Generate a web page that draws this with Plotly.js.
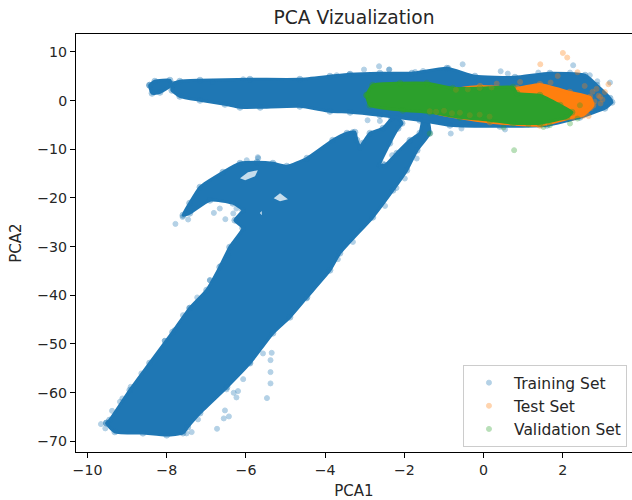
<!DOCTYPE html>
<html><head><meta charset="utf-8">
<script src="https://cdn.plot.ly/plotly-3.0.1.min.js"></script>
<style>html,body{margin:0;padding:0;background:#fff;overflow:hidden}</style>
</head><body><div id="chart" style="width:632px;height:500px"></div>
<script>
const trainLowerX=[-9.52,-9.31,-8.60,-8.0,-7.59,-7.47,-7.16,-6.48,-5.90,-5.32,-4.89,-4.46,-3.88,-3.63,-2.80,-2.29,-1.94,-1.68,-1.36,-1.41,-1.53,-1.61,-1.86,-2.19,-2.49,-2.62,-2.37,-2.16,-2.06,-2.24,-2.32,-2.54,-2.87,-3.05,-3.12,-3.20,-3.25,-3.45,-3.81,-4.46,-4.97,-5.32,-5.72,-6.15,-6.58,-7.16,-7.42,-7.59,-7.42,-6.91,-6.33,-6.08,-6.28,-6.08,-6.41,-6.66,-6.99,-7.42,-7.85,-8.43,-8.93,-9.44];
const trainLowerY=[-66.26,-68.05,-68.32,-68.73,-68.3,-67.08,-64.2,-58.87,-53.94,-47.78,-44.5,-40.39,-34.85,-31.36,-23.96,-18.42,-14.31,-10.2,-6.71,-4.05,-4.05,-6.71,-8.15,-10.82,-13.29,-13.29,-8.77,-5.69,-4.66,-3.02,-3.63,-5.69,-6.71,-8.77,-9.59,-8.15,-6.51,-6.71,-8.15,-11.85,-13.49,-12.88,-12.67,-12.88,-14.72,-17.8,-21.09,-23.55,-23.14,-20.47,-21.09,-22.53,-24.58,-26.22,-30.12,-34.23,-38.95,-42.65,-47.58,-53.94,-59.49,-65.65];
const trainUpperX=[-7.84,-7.67,-7.16,-5.90,-4.64,-3.88,-3.37,-2.62,-1.81,-0.93,-0.22,0.79,1.67,2.56,2.86,3.19,3.24,3.06,2.43,1.60,0.41,-0.85,-1.61,-2.62,-3.37,-3.88,-4.64,-5.64,-6.15,-6.53,-7.16,-7.67,-7.87];
const trainUpperY=[3.35,3.96,4.17,4.37,4.37,4.99,5.40,5.61,5.61,6.63,5.0,4.78,5.61,5.2,3.14,0.47,-0.35,-1.58,-3.43,-5.07,-5.28,-5.07,-4.05,-3.02,-2.40,-2.2,-1.17,-1.38,-1.38,-0.76,0.06,0.88,2.11];
const trainTipX=[-8.43,-8.30,-7.92,-7.89,-8.17,-8.37];
const trainTipY=[3.14,3.96,4.17,3.14,1.70,1.50];
const trainGapX=[-6.15,-5.95,-5.70,-5.77,-6.02,null,-5.30,-5.14,-4.94,-5.14,null,-5.65,-5.6,-5.6];
const trainGapY=[-15.95,-14.72,-14.31,-15.54,-16.36,null,-20.06,-19.03,-20.27,-20.68,null,-23.08,-22.67,-23.55];
const trainPointsX=[-0.53,-0.89,-2.39,-1.73,-1.53,0.43,0.61,1.38,2.26,2.18,2.68,2.87,3.19,-0.83,-0.56,0.54,-2.64,-3.02,-2.38,-3.71,-3.39,-6.84,-6.07,-2.93,-2.62,-3.3,-5.70,-5.98,-7.78,-6.52,-5.69,-7.6,-7.46,-6.81,-6.66,-6.24,-6.32,-6.64,-6.91,-6.91,-7.23,-6.45,-7.42,-2.2,-2.49,-1.99,-2.54,-2.31,-1.69,-3.3,-3.68,-4.47,-9.66,-9.55,-8.91,-9.38,-9.18,-9.12,-8.64,-8.05,-8.05,-7.80,-7.59,-5.35,-5.38,-5.38,-5.38,-5.47,-6.07,-6.2,-6.31,-6.24,-6.53,-6.43,-6.56,-6.73,-7.37,-7.5,-7.21,-5.57,-6.49,-5.9];
const trainPointsY=[7.45,6.7,6.37,5.87,6.08,6.02,5.54,5.75,7.25,5.75,5.2,3.96,3.7,-6.78,-5.75,-5.95,7.04,6.37,6.37,5.2,5.4,3.82,4.37,-4.05,-4.19,-6.45,-11.64,-12.26,-25.34,-24.37,-11.85,-23.9,-24.44,-23.08,-22.18,-22.18,-23.2,-33.96,-36.9,-36.9,-40.45,-31.77,-42.59,-17.95,-21.64,-16.02,-12.94,-11.23,-11.91,-29.04,-32.6,-40.66,-66.47,-67.35,-58.81,-63.74,-61.89,-61.2,-56.06,-49.36,-49.36,-47.17,-44.09,-51.83,-53.33,-55.79,-58.11,-61.13,-57.23,-59.69,-60.04,-60.99,-63.66,-64.89,-65.3,-67.43,-68.11,-68.38,-65.5,-51.95,-59.34,-53.88];
const testCoreX=[-1.36,-0.78,-0.09,0.84,1.42,2.17,2.68,2.76,2.51,2.25,1.42,0.16];
const testCoreY=[-2.0,2.1,2.9,2.53,3.3,1.7,0.68,-0.97,-3.03,-3.43,-5.07,-4.4];
const testPointsX=[2.0,2.11,1.43,2.37,3.15,3.06,2.94,1.69,0.92,0.33,1.87,2.43,2.7,2.85,2.9,2.8,2.95,2.6,2.75,3.0,2.55,2.65];
const testPointsY=[9.78,8.83,7.45,5.81,3.35,1.77,0.74,3.7,3.82,3.49,5.05,-2.6,-1.6,2.4,1.0,-0.2,-0.6,-2.2,1.8,0.2,3.0,-3.2];
const wispX=[-1.36,-1.2,-1.0,-0.8,-0.6,-0.35,-0.1,0.15,-0.7,-0.4,-0.1,0.2];
const wispY=[-2.2,-2.3,-2.1,-2.6,-2.5,-3.0,-2.9,-3.3,2.2,2.3,2.6,2.7];
const validCoreX=[-2.95,-2.80,-2.11,-1.43,-0.78,-0.09,0.74,0.84,1.42,1.93,2.23,2.10,1.42,0.74,0.16,-0.60,-1.36,-2.04,-2.87];
const validCoreY=[1.09,3.14,3.55,3.55,2.53,2.53,2.73,1.50,1.09,-0.97,-2.40,-3.43,-4.66,-4.66,-4.05,-3.43,-2.40,-1.99,-0.97];
const validPointsX=[0.77,-1.36,2.18,2.37,0.50,1.67,1.51,1.13,2.43];
const validPointsY=[-10.2,-6.78,-4.72,-3.7,-5.54,-5.07,-5.42,-4.93,-0.97];
const seriesNames=['Training Set','Test Set','Validation Set'];
const xTicks=[-10,-8,-6,-4,-2,0,2];
const yTicks=[-70,-60,-50,-40,-30,-20,-10,0,10];

const BLUE='#1f77b4',ORANGE='#ff7f0e',GREEN='#2ca02c';
function cloud(x,y,c){return {x:x.concat(x[0]),y:y.concat(y[0]),type:'scatter',mode:'lines+markers',fill:'toself',fillcolor:c,
  line:{color:c,width:3,shape:'spline',smoothing:0.5},marker:{color:c,size:6,opacity:0.4,line:{color:c,width:1}},showlegend:false,hoverinfo:'skip'};}
function pts(x,y,c,name,show,op){return {x:x,y:y,type:'scatter',mode:'markers',name:name,showlegend:show,
  marker:{color:c,size:5,opacity:op||0.33,line:{color:c,width:1}}};}
const traces=[
  cloud(trainLowerX,trainLowerY,BLUE),
  cloud(trainUpperX,trainUpperY,BLUE),
  cloud(trainTipX,trainTipY,BLUE),
  {x:trainGapX,y:trainGapY,type:'scatter',mode:'none',fill:'toself',fillcolor:'rgba(255,255,255,0.75)',showlegend:false,hoverinfo:'skip'},
  pts(trainPointsX,trainPointsY,BLUE,seriesNames[0],true),
  cloud(testCoreX,testCoreY,ORANGE),
  pts(testPointsX,testPointsY,ORANGE,seriesNames[1],true),
  cloud(validCoreX,validCoreY,GREEN),
  pts(wispX,wispY,ORANGE,seriesNames[1],false,0.18),
  pts(validPointsX,validPointsY,GREEN,seriesNames[2],true)
];
const TXT='#262626';
const layout={
  width:632,height:500,autosize:false,paper_bgcolor:'#fff',plot_bgcolor:'#fff',
  margin:{l:76,r:0,t:34,b:48},
  font:{family:'"DejaVu Sans",sans-serif',size:14,color:TXT},
  title:{text:'PCA Vizualization',font:{size:18.7,color:TXT},xref:'paper',x:0.5,xanchor:'center',yref:'container',y:0.965,yanchor:'middle'},
  xaxis:{range:[-10.29,3.745],tickvals:xTicks,ticks:'outside',ticklen:5,tickcolor:'#000',tickfont:{size:14.2},showline:true,linecolor:'#000',linewidth:1,mirror:true,showgrid:false,zeroline:false,
    title:{text:'PCA1',standoff:9,font:{size:15}}},
  yaxis:{range:[-72.2,13.67],tickvals:yTicks,ticks:'outside',ticklen:5,tickcolor:'#000',tickfont:{size:14.2},showline:true,linecolor:'#000',linewidth:1,mirror:true,showgrid:false,zeroline:false,
    title:{text:'PCA2',standoff:11,font:{size:15}}},
  legend:{x:0.696,y:0.208,xanchor:'left',yanchor:'top',bgcolor:'rgba(255,255,255,0.8)',bordercolor:'#ccc',borderwidth:1,font:{size:15.5,color:TXT},traceorder:'normal',itemwidth:40,entrywidth:112,entrywidthmode:'pixels'}
};
Plotly.newPlot('chart',traces,layout,{displayModeBar:false,staticPlot:true});
</script></body></html>
